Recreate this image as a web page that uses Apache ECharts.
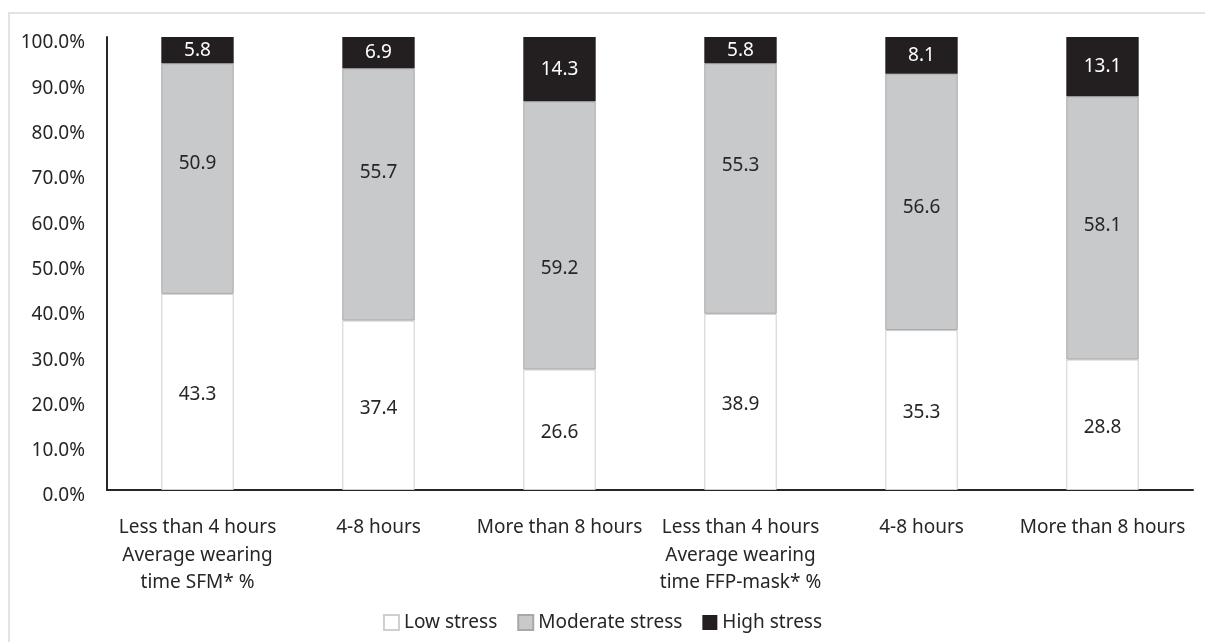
<!DOCTYPE html>
<html>
<head>
<meta charset="utf-8">
<script src="https://cdn.jsdelivr.net/npm/echarts@6/dist/echarts.min.js"></script>
<style>
    html, body { margin: 0; padding: 0; background: #fff; }
    #wrap { position: relative; width: 1205px; height: 642px; overflow: hidden; }
    #frame { position: absolute; left: 8px; top: 12px; width: 1300px; height: 700px;
             border-left: 2px solid #e3e3e3; border-top: 2px solid #e3e3e3; }
    #chart { position: absolute; left: 0; top: 0; width: 1205px; height: 642px; }
</style>
</head>
<body>
<div id="wrap">
    <div id="frame"></div>
    <div id="chart"></div>
</div>
<script>
(function () {

    var categories = [
        'Less than 4 hours\nAverage wearing\ntime SFM* %',
        '4-8 hours',
        'More than 8 hours',
        'Less than 4 hours\nAverage wearing\ntime FFP-mask* %',
        '4-8 hours',
        'More than 8 hours'
    ];
    var lowStress = [43.3, 37.4, 26.6, 38.9, 35.3, 28.8];
    var moderateStress = [50.9, 55.7, 59.2, 55.3, 56.6, 58.1];
    var highStress = [5.8, 6.9, 14.3, 5.8, 8.1, 13.1];

    // label nudges (px) for the moderate segments, as placed in the source figure
    var moderateLabelShift = [-15, -22, 33, -23, 6, -2];

    var font = '"Noto Sans", sans-serif';
    var ink = '#262626';
    var size = 19;

    function withShift(values, shifts) {
        return values.map(function (v, i) {
            return { value: v, label: { offset: [0, shifts[i]] } };
        });
    }

    function oneDecimal(p) {
        return p.value.toFixed(1);
    }

    var option = {
        animation: false,
        textStyle: { fontFamily: font },
        grid: { left: 107, right: 12, top: 37, bottom: 152 },
        legend: {
            bottom: 5,
            left: 'center',
            icon: 'rect',
            itemWidth: 15,
            itemHeight: 15,
            itemGap: 20,
            textStyle: { fontFamily: font, fontSize: size, color: ink },
            data: ['Low stress', 'Moderate stress', 'High stress']
        },
        xAxis: {
            type: 'category',
            data: categories,
            axisLine: { lineStyle: { color: '#262626', width: 2 } },
            axisTick: { show: false },
            axisLabel: {
                interval: 0,
                margin: 24,
                fontSize: size,
                lineHeight: 27.5,
                color: ink,
                fontFamily: font
            }
        },
        yAxis: {
            type: 'value',
            min: 0,
            max: 100,
            interval: 10,
            axisLine: { show: true, lineStyle: { color: '#262626', width: 2 } },
            axisTick: { show: false },
            splitLine: { show: false },
            axisLabel: {
                margin: 22,
                color: ink,
                formatter: function (v) { return '{t|' + v.toFixed(1) + '%}'; },
                rich: {
                    t: {
                        fontSize: size,
                        fontFamily: font,
                        color: ink,
                        padding: [12, 0, 0, 0]
                    }
                }
            }
        },
        series: [
            {
                name: 'Low stress',
                type: 'bar',
                stack: 'all',
                barWidth: '40%',
                data: lowStress,
                itemStyle: { color: '#ffffff', borderColor: '#cfcfcf', borderWidth: 1 },
                label: {
                    show: true, position: 'inside', offset: [0, 3],
                    fontSize: size, color: ink, fontFamily: font,
                    formatter: oneDecimal
                }
            },
            {
                name: 'Moderate stress',
                type: 'bar',
                stack: 'all',
                data: withShift(moderateStress, moderateLabelShift),
                itemStyle: { color: '#c8c9cb', borderColor: '#a8a8a8', borderWidth: 1 },
                label: {
                    show: true, position: 'inside',
                    fontSize: size, color: ink, fontFamily: font,
                    formatter: oneDecimal
                }
            },
            {
                name: 'High stress',
                type: 'bar',
                stack: 'all',
                data: highStress,
                itemStyle: { color: '#231f20' },
                label: {
                    show: true, position: 'inside',
                    fontSize: size, color: '#ffffff', fontFamily: font,
                    formatter: oneDecimal
                }
            }
        ]
    };

    var myChart = echarts.init(document.getElementById('chart'));
    myChart.setOption(option);

})();
</script>
</body>
</html>
